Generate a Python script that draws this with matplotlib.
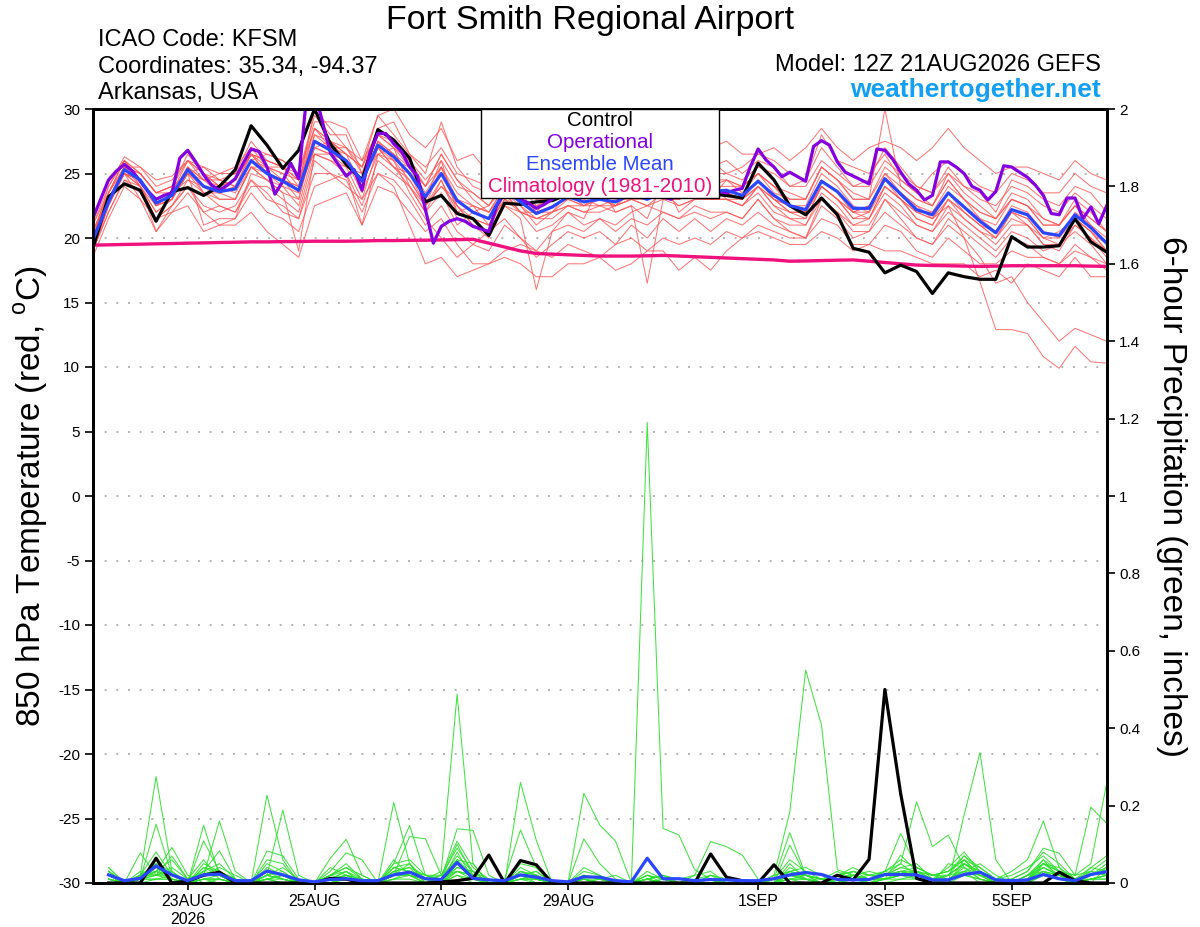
import matplotlib
matplotlib.use('Agg')
import matplotlib.pyplot as plt
from matplotlib.patches import Rectangle

plt.rcParams['font.family'] = ['Liberation Sans', 'DejaVu Sans']
plt.rcParams['mathtext.fontset'] = 'custom'
plt.rcParams['mathtext.rm'] = 'Liberation Sans'

# ---------------- data ----------------
fhr_6h = list(range(0, 385, 6))       # temperature, 6-hourly (65)
fhr_3h = list(range(0, 385, 3))       # operational, 3-hourly (129)
fhr_precip = list(range(6, 385, 6))   # 6-hour precipitation (64)

tick_hours = [36, 84, 132, 180, 252, 300, 348]
tick_labels = ['23AUG\n2026', '25AUG', '27AUG', '29AUG', '1SEP', '3SEP', '5SEP']

control_temp = [19.2, 23.2, 24.2, 23.7, 21.3, 23.6, 23.9, 23.3, 24.0, 25.3,
                28.7, 27.2, 25.4, 26.8, 30.0, 27.3, 25.7, 24.5, 28.4, 27.6,
                26.2, 22.8, 23.3, 21.9, 21.5, 20.2, 22.7, 22.6, 22.8, 22.9,
                23.4, 23.8, 23.5, 24.2, 23.6, 24.5, 23.8, 24.6, 24.0, 23.4,
                23.3, 23.1, 25.8, 24.5, 22.5, 21.8, 23.1, 21.8, 19.2, 18.9,
                17.3, 17.9, 17.4, 15.7, 17.3, 17.0, 16.8, 16.8, 20.1, 19.3,
                19.3, 19.4, 21.5, 19.7, 18.9]

mean_temp = [19.8, 22.8, 25.3, 24.5, 22.7, 23.3, 25.3, 24.0, 23.6, 23.8,
             26.0, 25.0, 24.4, 23.7, 27.5, 26.8, 26.0, 24.4, 27.2, 26.3,
             25.0, 23.2, 25.0, 22.9, 22.0, 21.5, 23.7, 22.8, 21.9, 22.4,
             23.2, 22.8, 23.0, 22.8, 23.4, 23.0, 23.6, 23.2, 23.8, 23.6,
             23.7, 23.3, 24.4, 23.3, 22.5, 22.2, 24.4, 23.6, 22.3, 22.3,
             24.6, 23.4, 22.2, 21.8, 23.5, 22.4, 21.3, 20.4, 22.2, 21.8,
             20.4, 20.2, 21.8, 20.8, 19.6]

clim_temp = [19.45, 19.47, 19.5, 19.52, 19.55, 19.57, 19.6, 19.62, 19.65, 19.67,
             19.7, 19.7, 19.72, 19.73, 19.75, 19.75, 19.75, 19.77, 19.8, 19.8,
             19.82, 19.83, 19.85, 19.87, 19.9, 19.6, 19.3, 19.0, 18.8, 18.75,
             18.7, 18.65, 18.6, 18.6, 18.6, 18.62, 18.65, 18.6, 18.55, 18.5,
             18.45, 18.4, 18.35, 18.3, 18.2, 18.22, 18.25, 18.28, 18.3, 18.2,
             18.1, 18.0, 17.9, 17.87, 17.85, 17.82, 17.8, 17.82, 17.85, 17.85,
             17.85, 17.85, 17.85, 17.82, 17.8]

oper_temp = [21.5, 23.0, 24.5, 25.2, 25.7, 25.2, 24.4, 23.6, 23.0, 23.3,
             23.5, 26.2, 26.8, 25.9, 24.9, 24.1, 23.7, 24.1, 24.6, 25.8,
             26.9, 26.7, 25.5, 23.4, 24.4, 25.8, 24.6, 31.0, 31.5, 29.0,
             26.6, 25.7, 24.8, 25.3, 23.7, 26.6, 28.1, 28.1, 27.3, 26.7,
             25.5, 24.8, 22.2, 19.6, 20.9, 21.3, 21.5, 21.3, 20.9, 20.7,
             20.5, 22.5, 23.5, 23.2, 23.0, 22.7, 22.3, 22.6, 23.0, 23.5,
             24.0, 23.8, 23.6, 24.2, 24.8, 24.5, 24.0, 23.8, 24.3, 24.9,
             24.6, 24.0, 23.2, 23.0, 23.5, 24.2, 24.6, 24.3, 23.9, 23.6,
             23.5, 23.7, 23.85, 25.5, 26.9, 26.05, 25.5, 24.75, 25.1, 24.75,
             24.4, 27.1, 27.55, 27.2, 25.9, 25.1, 24.8, 24.5, 24.2, 26.9,
             26.8, 26.1, 25.1, 24.2, 23.7, 22.95, 23.3, 25.9, 25.9, 25.5,
             25.0, 24.0, 23.7, 22.95, 23.6, 25.6, 25.5, 25.1, 24.7, 24.1,
             23.3, 21.9, 21.8, 23.1, 23.1, 21.5, 22.4, 21.1, 22.5]

t_mem01 = [20.5, 23.5, 26.0, 25.0, 23.5, 24.0, 26.5, 25.0, 24.5, 25.0, 27.5, 26.0, 25.5, 24.0, 30.0,
           28.5, 27.0, 25.5, 29.5, 28.0, 26.5, 25.0, 29.0, 25.5, 24.0, 23.5, 25.5, 25.0, 24.0, 24.5,
           25.5, 24.5, 25.0, 24.0, 25.5, 25.0, 26.0, 25.0, 26.5, 25.5, 26.0, 25.0, 26.0, 25.5, 24.0,
           24.5, 27.0, 25.5, 24.0, 24.5, 27.0, 25.5, 24.0, 23.5, 25.5, 24.0, 23.5, 22.0, 24.5, 24.0,
           23.0, 22.5, 24.0, 23.5, 22.0]
t_mem02 = [19.0, 22.0, 24.5, 23.5, 21.5, 22.5, 24.0, 22.5, 22.0, 22.5, 24.5, 23.5, 22.0, 21.5, 25.0,
           25.0, 24.5, 22.0, 25.0, 24.5, 23.0, 21.0, 22.5, 20.5, 19.5, 19.0, 21.0, 20.0, 18.5, 19.5,
           20.5, 20.0, 20.5, 19.5, 21.0, 20.0, 21.5, 20.5, 21.5, 20.5, 21.5, 21.0, 22.0, 21.0, 20.5,
           20.0, 22.5, 21.5, 20.0, 20.5, 22.0, 21.0, 20.0, 19.5, 21.0, 20.0, 18.5, 16.5, 17.0, 15.0,
           13.5, 12.0, 13.0, 12.5, 12.0]
t_mem03 = [20.0, 23.0, 25.5, 24.5, 23.0, 23.5, 25.5, 24.5, 23.5, 24.0, 26.5, 25.0, 24.5, 23.0, 28.0,
           27.0, 26.5, 24.0, 27.5, 26.5, 25.5, 23.0, 26.0, 22.0, 22.5, 21.0, 23.5, 23.0, 22.0, 22.0,
           23.5, 22.5, 23.5, 22.5, 24.0, 23.0, 24.0, 23.5, 24.5, 23.0, 24.5, 23.5, 25.0, 24.0, 22.5,
           22.5, 25.0, 24.0, 22.5, 22.0, 25.0, 23.5, 22.5, 21.5, 22.5, 20.0, 16.6, 12.9, 12.9, 12.6,
           10.8, 9.9, 11.6, 10.4, 10.3]
t_mem04 = [21.0, 24.0, 26.0, 24.0, 22.0, 23.0, 25.0, 21.0, 21.5, 21.5, 25.0, 24.5, 24.0, 22.5, 27.0,
           27.5, 26.0, 23.5, 26.5, 27.0, 24.0, 22.0, 24.5, 21.5, 21.0, 20.5, 22.5, 21.5, 16.0, 20.5,
           22.0, 21.5, 24.0, 22.0, 22.5, 21.5, 24.5, 22.0, 23.0, 24.5, 23.0, 22.5, 23.5, 22.0, 21.5,
           21.0, 23.5, 22.5, 21.0, 21.5, 23.5, 22.5, 21.0, 20.5, 22.5, 21.5, 20.5, 19.5, 21.0, 21.0,
           19.5, 19.0, 21.0, 20.0, 18.5]
t_mem05 = [19.5, 23.0, 25.0, 24.0, 22.5, 23.0, 25.5, 23.5, 23.0, 23.0, 25.5, 24.5, 23.5, 19.0, 26.5,
           26.0, 25.5, 23.0, 27.0, 26.0, 24.5, 22.5, 24.5, 22.0, 21.5, 21.0, 23.0, 22.0, 21.5, 22.0,
           22.5, 22.0, 22.5, 22.0, 22.5, 16.5, 23.0, 22.5, 23.0, 23.0, 23.0, 22.5, 24.0, 22.5, 21.5,
           21.5, 24.0, 23.0, 21.5, 21.5, 24.0, 23.0, 21.5, 21.0, 23.0, 22.0, 21.0, 20.5, 22.0, 21.5,
           20.0, 20.5, 21.5, 20.5, 19.5]
t_mem06 = [20.0, 23.5, 25.5, 25.0, 23.5, 24.0, 25.0, 25.5, 24.5, 24.0, 26.0, 26.5, 26.0, 25.0, 28.5,
           27.5, 26.5, 25.5, 28.5, 27.5, 26.0, 24.5, 26.0, 24.0, 23.5, 22.5, 24.5, 24.5, 23.0, 23.5,
           24.5, 24.0, 24.5, 24.5, 25.0, 24.5, 25.0, 24.5, 25.0, 25.0, 25.0, 24.5, 25.5, 25.0, 24.0,
           24.0, 26.0, 25.0, 24.0, 24.0, 26.0, 25.0, 24.0, 23.5, 25.0, 24.0, 23.0, 22.5, 24.0, 23.5,
           22.5, 22.0, 23.5, 22.5, 21.5]
t_mem07 = [18.5, 21.5, 24.0, 23.0, 20.5, 22.0, 22.5, 20.5, 21.0, 21.0, 22.0, 20.5, 19.5, 18.5, 22.5,
           23.0, 23.5, 21.0, 24.0, 23.5, 22.0, 20.5, 21.5, 19.5, 18.0, 18.0, 19.0, 19.5, 19.0, 18.5,
           19.5, 19.0, 18.5, 19.5, 20.0, 19.0, 20.0, 19.5, 20.0, 19.5, 20.5, 20.0, 21.0, 20.5, 20.0,
           20.0, 21.5, 21.0, 19.5, 19.5, 21.0, 20.5, 19.0, 18.5, 20.0, 19.0, 18.0, 18.0, 19.0, 18.5,
           18.5, 18.0, 19.0, 18.5, 18.0]
t_mem08 = [20.5, 23.0, 25.5, 25.5, 24.0, 24.5, 26.0, 25.0, 24.0, 23.5, 25.5, 25.5, 25.0, 24.5, 26.5,
           26.5, 25.5, 25.0, 26.5, 25.5, 24.0, 22.0, 23.5, 21.0, 22.0, 22.5, 24.0, 23.5, 22.0, 23.5,
           24.0, 23.5, 23.0, 23.5, 24.0, 23.5, 24.0, 24.0, 24.5, 24.0, 24.5, 24.0, 25.0, 23.5, 23.0,
           23.0, 25.5, 24.5, 23.0, 23.0, 30.0, 24.0, 23.0, 22.5, 24.5, 23.0, 22.0, 21.5, 23.0, 22.5,
           21.5, 21.0, 22.5, 21.5, 20.5]
t_mem09 = [19.0, 22.5, 25.0, 24.5, 22.5, 23.5, 25.0, 24.0, 23.5, 24.5, 27.0, 25.5, 24.5, 24.0, 28.5,
           27.0, 27.0, 26.0, 28.0, 27.5, 25.5, 24.0, 26.5, 24.5, 23.0, 22.0, 24.0, 23.0, 22.5, 23.0,
           23.5, 23.0, 22.5, 23.0, 23.0, 23.5, 23.0, 23.0, 23.5, 23.0, 23.0, 23.0, 24.0, 23.0, 22.5,
           22.0, 24.0, 23.0, 22.0, 22.5, 24.5, 23.5, 22.5, 22.0, 24.0, 23.0, 21.5, 21.0, 23.0, 22.5,
           21.0, 21.0, 22.5, 21.0, 20.0]
t_mem10 = [21.5, 24.5, 26.0, 24.5, 23.0, 23.5, 26.0, 24.5, 25.0, 25.5, 27.0, 26.5, 26.0, 25.0, 29.0,
           29.0, 28.5, 26.0, 29.5, 30.0, 28.0, 27.0, 28.5, 26.0, 26.5, 25.0, 26.0, 27.0, 26.0, 26.0,
           26.5, 27.0, 26.5, 26.0, 26.0, 26.0, 27.0, 26.5, 27.0, 27.0, 27.5, 26.5, 26.5, 27.0, 26.0,
           27.0, 28.5, 27.0, 26.0, 27.0, 27.5, 27.0, 26.0, 27.0, 28.5, 27.0, 26.0, 25.0, 25.5, 25.5,
           25.0, 24.5, 26.0, 25.0, 24.5]
t_mem11 = [19.5, 23.0, 25.0, 23.0, 21.5, 22.5, 24.5, 23.5, 22.5, 22.0, 24.5, 23.0, 22.5, 21.5, 26.0,
           25.0, 24.0, 23.0, 25.0, 24.0, 21.0, 18.0, 18.5, 17.0, 17.5, 18.0, 18.5, 18.0, 17.0, 17.0,
           18.0, 18.0, 18.5, 17.5, 18.0, 19.0, 19.0, 17.5, 18.5, 17.5, 19.0, 20.0, 20.5, 20.0, 19.5,
           19.5, 20.5, 20.0, 19.0, 19.5, 19.0, 19.0, 18.5, 18.0, 18.0, 18.0, 17.0, 17.5, 16.5, 18.0,
           17.5, 17.0, 18.5, 17.0, 17.0]
t_mem12 = [20.0, 23.5, 25.5, 24.0, 22.0, 23.0, 25.0, 24.5, 24.5, 24.0, 26.5, 25.5, 25.5, 24.5, 27.5,
           27.0, 26.0, 24.5, 27.5, 26.0, 25.5, 23.5, 25.5, 23.0, 22.0, 21.5, 23.5, 22.5, 21.5, 21.5,
           22.5, 22.5, 23.0, 22.5, 23.5, 23.0, 23.5, 23.0, 23.5, 23.5, 23.5, 23.0, 24.0, 23.0, 22.0,
           21.5, 24.0, 23.0, 22.0, 21.5, 24.0, 23.0, 21.5, 21.0, 23.0, 21.5, 20.5, 20.0, 21.5, 21.0,
           19.5, 19.5, 21.0, 20.0, 19.0]
t_mem13 = [20.0, 24.0, 26.3, 25.5, 24.5, 24.8, 26.0, 25.5, 25.0, 25.0, 26.5, 26.0, 25.5, 25.0, 29.5,
           28.0, 28.0, 25.0, 28.5, 29.0, 26.5, 25.5, 27.0, 25.0, 24.5, 24.0, 25.0, 24.5, 25.0, 25.5,
           24.5, 25.5, 25.5, 25.0, 24.5, 26.0, 25.5, 26.0, 25.5, 26.0, 25.0, 25.5, 26.5, 26.0, 25.0,
           24.5, 28.0, 26.0, 25.5, 25.0, 26.5, 24.5, 23.5, 25.0, 26.0, 25.0, 24.0, 23.5, 25.0, 24.5,
           23.5, 23.5, 25.0, 24.0, 23.5]
t_mem14 = [19.0, 22.0, 24.5, 24.0, 21.5, 22.0, 23.5, 22.0, 21.0, 21.5, 23.5, 22.0, 21.5, 20.5, 24.0,
           24.5, 25.0, 22.5, 26.0, 25.0, 24.0, 22.5, 24.0, 22.5, 21.0, 20.0, 22.5, 22.0, 20.5, 21.0,
           22.0, 21.0, 21.5, 21.0, 22.0, 22.5, 22.0, 21.5, 22.5, 22.0, 22.0, 21.5, 23.0, 21.5, 20.5,
           20.0, 23.0, 22.0, 20.5, 20.5, 23.0, 22.0, 21.0, 20.5, 22.0, 21.0, 20.0, 19.0, 20.5, 20.0,
           19.0, 19.5, 20.5, 19.5, 18.0]
t_mem15 = [20.0, 23.0, 25.0, 24.5, 23.0, 23.5, 25.5, 24.0, 23.5, 24.0, 26.0, 25.5, 25.0, 23.5, 27.0,
           26.5, 26.0, 24.5, 27.0, 25.5, 25.0, 22.5, 25.5, 22.5, 21.0, 20.5, 23.5, 22.0, 21.5, 22.0,
           23.0, 22.5, 22.5, 22.5, 23.0, 22.5, 23.0, 23.0, 23.5, 23.0, 23.5, 23.0, 24.5, 23.0, 22.0,
           22.0, 24.5, 23.5, 22.0, 22.0, 24.5, 23.0, 22.0, 21.5, 23.5, 22.0, 21.0, 20.0, 22.0, 21.5,
           20.0, 19.5, 21.5, 20.5, 19.0]
t_mem16 = [20.5, 23.0, 25.5, 25.0, 23.5, 23.5, 24.5, 24.0, 23.0, 23.0, 25.5, 25.0, 24.0, 23.5, 27.0,
           26.5, 26.0, 24.5, 27.0, 25.5, 24.5, 22.5, 24.0, 23.0, 22.5, 22.0, 23.5, 22.0, 22.0, 22.5,
           23.0, 22.5, 23.0, 22.5, 23.0, 23.0, 23.5, 23.0, 24.0, 23.5, 23.5, 23.0, 24.5, 23.0, 22.5,
           22.0, 24.5, 23.5, 22.0, 22.5, 24.5, 23.5, 22.0, 22.0, 23.5, 22.5, 21.5, 20.5, 22.5, 22.0,
           20.5, 20.0, 22.0, 21.0, 19.5]
t_mem17 = [19.5, 23.0, 25.0, 24.0, 20.5, 22.5, 24.0, 22.0, 22.5, 22.0, 24.0, 24.0, 23.0, 22.0, 26.5,
           26.0, 25.0, 21.0, 26.5, 26.0, 23.5, 21.5, 20.0, 18.5, 19.5, 20.5, 21.5, 20.0, 19.0, 20.5,
           21.0, 20.5, 21.5, 20.5, 21.5, 21.0, 22.0, 21.5, 22.0, 21.5, 22.0, 21.5, 23.0, 21.5, 21.0,
           21.0, 23.0, 22.0, 21.0, 21.0, 23.0, 21.5, 20.0, 19.5, 21.5, 20.5, 19.5, 18.5, 20.0, 19.5,
           18.5, 18.0, 19.5, 18.5, 17.5]
t_mem18 = [20.0, 23.0, 25.0, 24.5, 22.5, 23.0, 25.5, 24.5, 24.0, 24.5, 26.5, 25.0, 24.5, 24.0, 28.0,
           27.5, 26.5, 25.5, 28.0, 27.0, 26.0, 24.0, 26.5, 24.5, 23.5, 22.5, 24.5, 24.0, 22.5, 23.0,
           24.0, 23.5, 24.0, 23.5, 24.5, 24.0, 24.5, 24.0, 25.0, 24.5, 24.5, 24.0, 25.0, 24.0, 23.5,
           23.0, 25.5, 24.5, 23.5, 23.0, 25.5, 24.5, 23.5, 22.5, 25.0, 23.5, 22.5, 21.5, 23.5, 23.0,
           21.5, 21.0, 23.0, 22.0, 20.5]
t_mem19 = [19.0, 22.5, 25.0, 24.5, 22.5, 23.0, 25.0, 23.5, 23.5, 23.0, 25.5, 24.5, 23.5, 23.0, 27.5,
           27.0, 26.0, 24.0, 27.5, 26.5, 25.0, 23.0, 25.0, 22.5, 21.5, 21.0, 23.0, 22.5, 21.0, 22.0,
           22.5, 22.0, 22.0, 22.5, 23.0, 22.5, 23.5, 22.5, 23.0, 23.0, 23.0, 22.5, 24.0, 22.5, 22.0,
           22.0, 24.0, 23.0, 21.5, 22.0, 24.0, 23.0, 22.0, 21.5, 23.0, 22.0, 21.0, 20.0, 22.0, 21.0,
           20.0, 20.0, 21.5, 20.5, 19.0]
t_mem20 = [21.0, 23.5, 26.0, 25.0, 23.5, 24.0, 26.0, 25.0, 24.0, 24.5, 26.5, 26.0, 25.5, 24.5, 28.5,
           27.5, 27.0, 25.0, 28.0, 27.0, 25.5, 24.0, 25.5, 23.5, 22.5, 22.0, 24.0, 23.5, 23.0, 23.0,
           24.0, 23.5, 23.5, 23.5, 24.0, 24.0, 24.0, 24.0, 24.5, 24.0, 24.0, 24.0, 25.0, 24.0, 23.0,
           23.0, 25.5, 24.5, 23.0, 23.0, 25.0, 24.0, 23.0, 22.5, 24.5, 23.0, 22.0, 21.5, 23.0, 22.5,
           21.0, 21.0, 22.5, 21.5, 20.5]

control_precip = [0, 0, 0, 0.064, 0, 0.005, 0.02, 0.028,
                  0, 0, 0, 0, 0, 0, 0.012, 0.01,
                  0, 0, 0, 0, 0, 0.003, 0.006, 0.012,
                  0.072, 0, 0.058, 0.047, 0, 0, 0, 0,
                  0, 0, 0, 0, 0, 0, 0.075, 0.015,
                  0.006, 0, 0.047, 0, 0, 0, 0.02, 0.008,
                  0.061, 0.50, 0.23, 0.012, 0, 0, 0, 0,
                  0, 0, 0, 0, 0.028, 0.006, 0, 0]

mean_precip = [0.021, 0.006, 0.012, 0.044, 0.021, 0.006, 0.021, 0.023,
               0.006, 0.006, 0.031, 0.021, 0.008, 0.003, 0.009, 0.011,
               0.006, 0.006, 0.021, 0.028, 0.011, 0.009, 0.053, 0.012,
               0.008, 0.006, 0.021, 0.015, 0.006, 0.003, 0.016, 0.015,
               0.006, 0.003, 0.064, 0.011, 0.011, 0.006, 0.009, 0.008,
               0.006, 0.006, 0.011, 0.021, 0.027, 0.022, 0.009, 0.008,
               0.009, 0.022, 0.022, 0.021, 0.008, 0.008, 0.022, 0.028,
               0.008, 0.006, 0.008, 0.022, 0.011, 0.006, 0.022, 0.029]

p_mem01 = [0.02, 0, 0.02, 0.275, 0.03, 0, 0.01, 0, 0, 0, 0.01, 0, 0, 0, 0, 0.02,
           0, 0, 0.02, 0.03, 0.01, 0.03, 0.488, 0.05, 0, 0, 0.02, 0.01, 0, 0, 0.01, 0,
           0, 0, 0.01, 0, 0, 0, 0.01, 0, 0, 0, 0, 0.02, 0.03, 0.01, 0, 0.01,
           0, 0.01, 0.02, 0.03, 0.01, 0, 0.176, 0.337, 0.06, 0, 0, 0.02, 0.01, 0, 0.01, 0.02]
p_mem02 = [0.03, 0, 0.01, 0.152, 0.02, 0, 0.149, 0.02, 0, 0, 0.02, 0.01, 0, 0, 0.01, 0.03,
           0.01, 0, 0.208, 0.05, 0, 0.01, 0.06, 0.02, 0, 0, 0.03, 0.02, 0, 0, 0.02, 0.01,
           0, 0, 1.19, 0.141, 0.124, 0.034, 0.01, 0, 0, 0, 0, 0.01, 0.02, 0, 0, 0.02,
           0.01, 0.03, 0.02, 0.01, 0, 0, 0.05, 0.02, 0, 0, 0.01, 0.04, 0.02, 0, 0.02, 0.03]
p_mem03 = [0.04, 0, 0.078, 0.02, 0.07, 0.01, 0.02, 0.16, 0.03, 0, 0.03, 0.02, 0, 0, 0.02, 0.01,
           0, 0, 0.03, 0.02, 0.01, 0.02, 0.09, 0.03, 0, 0, 0.26, 0.11, 0, 0, 0, 0.01,
           0.02, 0, 0.02, 0.01, 0, 0, 0.02, 0.01, 0, 0, 0.02, 0.184, 0.55, 0.408, 0.034, 0.02,
           0.01, 0.02, 0.04, 0.03, 0.01, 0, 0.06, 0.02, 0, 0, 0.02, 0.05, 0.03, 0.01, 0, 0.04]
p_mem04 = [0.02, 0, 0.01, 0.03, 0.092, 0.02, 0, 0.01, 0, 0, 0.02, 0.188, 0.02, 0, 0, 0.02,
           0.01, 0, 0.02, 0.12, 0.114, 0.02, 0.03, 0.02, 0, 0, 0.01, 0.02, 0, 0, 0.232, 0.15,
           0.108, 0, 0.01, 0.02, 0, 0, 0.01, 0.01, 0, 0, 0, 0.03, 0.02, 0.01, 0, 0.01,
           0.02, 0.02, 0.03, 0.02, 0.01, 0.02, 0.07, 0.03, 0.01, 0, 0.02, 0.06, 0.03, 0.01, 0.03, 0.02]
p_mem05 = [0.01, 0, 0.02, 0.04, 0.01, 0, 0.109, 0.03, 0.01, 0, 0.227, 0.06, 0, 0, 0.01, 0.02,
           0, 0, 0.04, 0.03, 0.01, 0.01, 0.14, 0.136, 0.02, 0, 0.02, 0.03, 0, 0, 0.01, 0,
           0, 0, 0.02, 0.01, 0, 0, 0, 0.01, 0, 0, 0.01, 0.02, 0.03, 0.02, 0.01, 0.02,
           0.01, 0.03, 0.05, 0.21, 0.094, 0.124, 0.04, 0.01, 0, 0, 0.02, 0.03, 0.02, 0, 0.02, 0.03]
p_mem06 = [0.03, 0, 0.01, 0.02, 0.02, 0, 0.03, 0.083, 0.01, 0, 0.083, 0.07, 0.01, 0, 0.02, 0.04,
           0.01, 0, 0.05, 0.149, 0.02, 0.01, 0.07, 0.03, 0, 0.01, 0.137, 0.04, 0, 0, 0.02, 0.01,
           0, 0, 0.03, 0.01, 0, 0.02, 0.03, 0, 0, 0, 0.02, 0.03, 0.01, 0, 0.02, 0.03,
           0.01, 0.02, 0.03, 0.04, 0.02, 0.03, 0.06, 0.02, 0.01, 0.03, 0.06, 0.16, 0.04, 0.01, 0.02, 0.05]
p_mem07 = [0.02, 0, 0.01, 0.03, 0.01, 0, 0.02, 0.04, 0.02, 0, 0.01, 0.02, 0, 0, 0.064, 0.113,
           0.02, 0, 0.03, 0.04, 0, 0.02, 0.108, 0.04, 0.01, 0, 0.02, 0.03, 0, 0, 0.114, 0.05,
           0.01, 0, 0.01, 0.02, 0, 0, 0.02, 0.01, 0, 0, 0.01, 0.13, 0.02, 0.01, 0.03, 0.01,
           0.01, 0.02, 0.03, 0.02, 0.01, 0.02, 0.05, 0.03, 0, 0, 0.01, 0.05, 0.03, 0.02, 0.196, 0.154]
p_mem08 = [0.01, 0, 0.02, 0.05, 0.03, 0, 0.03, 0.02, 0, 0, 0.02, 0.01, 0, 0, 0.03, 0.078,
           0.06, 0, 0.02, 0.03, 0.02, 0.01, 0.05, 0.02, 0, 0, 0.04, 0.02, 0, 0, 0.02, 0.01,
           0, 0, 0.01, 0.02, 0.01, 0.02, 0.107, 0.094, 0.072, 0.01, 0, 0.098, 0.02, 0.01, 0.02, 0.03,
           0.02, 0.03, 0.128, 0.04, 0.02, 0.03, 0.07, 0.04, 0.01, 0.02, 0.04, 0.07, 0.03, 0.02, 0.05, 0.258]
p_mem09 = [0.02, 0, 0.01, 0.04, 0.02, 0, 0.04, 0.03, 0.01, 0, 0.04, 0.02, 0, 0, 0.01, 0.03,
           0, 0, 0.02, 0.05, 0.01, 0.01, 0.03, 0.02, 0, 0, 0.03, 0.01, 0, 0, 0.01, 0,
           0, 0, 0.01, 0, 0, 0, 0.01, 0, 0, 0, 0.01, 0.02, 0.01, 0, 0.02, 0.04,
           0.02, 0.01, 0.072, 0.03, 0.01, 0.04, 0.08, 0.03, 0, 0.01, 0.03, 0.09, 0.077, 0.02, 0.03, 0.06]
p_mem10 = [0.01, 0, 0.01, 0.06, 0.01, 0, 0.05, 0.03, 0, 0, 0.03, 0.01, 0, 0, 0.02, 0.05,
           0.01, 0, 0.04, 0.05, 0, 0, 0.08, 0.01, 0, 0, 0.01, 0, 0, 0, 0, 0,
           0, 0, 0, 0, 0, 0, 0, 0, 0, 0, 0, 0.05, 0.01, 0, 0.01, 0.02,
           0, 0.02, 0.05, 0.02, 0, 0.05, 0.04, 0.01, 0, 0, 0.02, 0.04, 0.02, 0, 0.04, 0.07]
p_mem11 = [0.03, 0, 0.02, 0.08, 0.02, 0, 0.02, 0.02, 0, 0, 0.05, 0.03, 0, 0, 0, 0.02,
           0, 0, 0.06, 0.02, 0, 0.01, 0.1, 0.02, 0, 0, 0.05, 0.04, 0, 0, 0.04, 0.02,
           0, 0, 0.02, 0, 0, 0.01, 0.02, 0, 0, 0, 0, 0.04, 0.02, 0, 0, 0.01,
           0.01, 0.01, 0.02, 0.03, 0.02, 0.01, 0.03, 0.05, 0.02, 0, 0.01, 0.06, 0.01, 0.01, 0.02, 0.04]
p_mem12 = [0.02, 0, 0.03, 0.02, 0.04, 0.01, 0.06, 0.01, 0, 0, 0.02, 0.04, 0.01, 0, 0.04, 0.02,
           0, 0, 0.05, 0.06, 0.02, 0, 0.04, 0.03, 0.01, 0, 0.02, 0.01, 0, 0, 0.01, 0,
           0, 0, 0, 0.01, 0, 0, 0, 0, 0, 0, 0, 0.03, 0.04, 0.02, 0.01, 0.02,
           0.03, 0.02, 0.04, 0.05, 0.01, 0.02, 0.05, 0.02, 0, 0, 0, 0.05, 0.04, 0, 0.03, 0.02]
p_mem13 = [0.01, 0, 0, 0.05, 0.01, 0, 0.01, 0.02, 0, 0, 0.01, 0.02, 0, 0, 0, 0.01,
           0, 0, 0.01, 0.03, 0.01, 0, 0.05, 0.01, 0, 0, 0.02, 0, 0, 0, 0, 0,
           0, 0, 0, 0, 0, 0, 0, 0, 0, 0, 0, 0.01, 0.01, 0, 0, 0.01,
           0, 0.01, 0.03, 0.01, 0, 0.02, 0.03, 0, 0, 0, 0, 0.03, 0.01, 0, 0.01, 0.01]
p_mem14 = [0.04, 0, 0.02, 0.03, 0.06, 0.01, 0.03, 0.05, 0.01, 0, 0.06, 0.05, 0, 0, 0.02, 0.04,
           0.02, 0, 0.03, 0.04, 0.02, 0.02, 0.06, 0.05, 0, 0, 0.03, 0.02, 0, 0, 0.03, 0.02,
           0, 0, 0.01, 0, 0, 0, 0.01, 0, 0, 0, 0.01, 0.06, 0.03, 0.02, 0, 0.02,
           0.01, 0.03, 0.06, 0.04, 0.02, 0.03, 0.06, 0.04, 0.01, 0.01, 0.03, 0.08, 0.05, 0.01, 0.04, 0.03]
p_mem15 = [0.02, 0, 0.01, 0.01, 0.01, 0, 0.01, 0.01, 0, 0, 0.01, 0.01, 0, 0, 0.01, 0.01,
           0, 0, 0.02, 0.02, 0, 0, 0.03, 0.01, 0, 0, 0.01, 0.01, 0, 0, 0, 0,
           0, 0, 0, 0, 0, 0, 0, 0, 0, 0, 0, 0.02, 0.01, 0.01, 0.01, 0.01,
           0.01, 0.02, 0.02, 0.02, 0.01, 0.01, 0.04, 0.02, 0, 0, 0.01, 0.03, 0.02, 0.01, 0.01, 0.02]
p_mem16 = [0.03, 0, 0.02, 0.02, 0.03, 0, 0.04, 0.02, 0, 0, 0.02, 0.03, 0, 0, 0.01, 0.02,
           0.01, 0, 0.03, 0.02, 0.01, 0.01, 0.04, 0.03, 0, 0, 0.02, 0.02, 0, 0, 0.01, 0.01,
           0, 0, 0.01, 0, 0, 0, 0, 0, 0, 0, 0, 0.02, 0.02, 0.01, 0, 0.03,
           0.02, 0.02, 0.03, 0.03, 0.02, 0.02, 0.05, 0.03, 0, 0, 0.02, 0.05, 0.02, 0, 0.02, 0.03]
p_mem17 = [0.01, 0, 0.01, 0.03, 0.02, 0, 0.02, 0.03, 0, 0, 0.03, 0.02, 0, 0, 0.02, 0.03,
           0, 0, 0.04, 0.03, 0.01, 0, 0.05, 0.02, 0, 0, 0.01, 0.02, 0, 0, 0.02, 0.01,
           0, 0, 0, 0.01, 0, 0, 0, 0.01, 0, 0, 0.01, 0.03, 0.02, 0.01, 0.01, 0.02,
           0.01, 0.01, 0.02, 0.03, 0.01, 0.01, 0.03, 0.02, 0.01, 0, 0.01, 0.04, 0.02, 0.01, 0.02, 0.04]
p_mem18 = [0.02, 0, 0, 0.01, 0.01, 0, 0.01, 0.01, 0, 0, 0.01, 0, 0, 0, 0, 0.01,
           0, 0, 0.01, 0.01, 0, 0, 0.02, 0, 0, 0, 0, 0, 0, 0, 0, 0,
           0, 0, 0, 0, 0, 0, 0, 0, 0, 0, 0, 0.01, 0, 0, 0, 0,
           0, 0, 0.01, 0.01, 0, 0, 0.02, 0.01, 0, 0, 0, 0.02, 0.01, 0, 0.01, 0.01]
p_mem19 = [0.01, 0, 0.01, 0.02, 0.01, 0, 0.02, 0.02, 0, 0, 0.02, 0.01, 0, 0, 0.01, 0.02,
           0, 0, 0.02, 0.02, 0, 0, 0.03, 0.02, 0, 0, 0.02, 0.01, 0, 0, 0.01, 0,
           0, 0, 0.01, 0, 0, 0, 0, 0, 0, 0, 0, 0.02, 0.01, 0, 0.01, 0.01,
           0, 0.01, 0.02, 0.02, 0.01, 0.01, 0.03, 0.02, 0, 0, 0.01, 0.03, 0.01, 0, 0.01, 0.02]
p_mem20 = [0.02, 0, 0.01, 0.01, 0.02, 0, 0.01, 0.01, 0, 0, 0.01, 0.02, 0, 0, 0.01, 0.01,
           0, 0, 0.01, 0.02, 0.01, 0, 0.02, 0.01, 0, 0, 0.01, 0.01, 0, 0, 0, 0,
           0, 0, 0, 0, 0, 0, 0, 0.01, 0, 0, 0, 0.01, 0.01, 0, 0, 0.01,
           0.01, 0.01, 0.01, 0.02, 0, 0.01, 0.02, 0.01, 0, 0, 0.01, 0.02, 0.01, 0, 0.01, 0.02]

temp_members = [t_mem01, t_mem02, t_mem03, t_mem04, t_mem05, t_mem06, t_mem07, t_mem08, t_mem09, t_mem10,
                t_mem11, t_mem12, t_mem13, t_mem14, t_mem15, t_mem16, t_mem17, t_mem18, t_mem19, t_mem20]
precip_members = [p_mem01, p_mem02, p_mem03, p_mem04, p_mem05, p_mem06, p_mem07, p_mem08, p_mem09, p_mem10,
                  p_mem11, p_mem12, p_mem13, p_mem14, p_mem15, p_mem16, p_mem17, p_mem18, p_mem19, p_mem20]

temp_ticks = list(range(-30, 31, 5))
precip_ticks = [0, 0.2, 0.4, 0.6, 0.8, 1.0, 1.2, 1.4, 1.6, 1.8, 2.0]
precip_tick_labels = ['0', '0.2', '0.4', '0.6', '0.8', '1', '1.2', '1.4', '1.6', '1.8', '2']

# ---------------- styles ----------------
RED = '#ff5555'
GREEN = '#2ee02e'
BLACK = '#000000'
PURPLE = '#8400e0'
BLUE = '#2a46ff'
MAGENTA = '#f0107e'
SITE = '#14a0f2'

W, H = 1200, 927
fig = plt.figure(figsize=(W / 100, H / 100), dpi=100)
ax = fig.add_axes([92.7 / W, 44 / H, 1014 / W, 774 / H])
ax2 = ax.twinx()

ax.set_xlim(0, 384)
ax.set_ylim(-30, 30)
ax2.set_ylim(0, 2)

ax.set_yticks(temp_ticks)
ax.set_yticklabels([str(t) for t in temp_ticks])
ax2.set_yticks(precip_ticks)
ax2.set_yticklabels(precip_tick_labels)
ax.set_xticks(tick_hours)
ax.set_xticklabels(tick_labels)

ax.grid(axis='y', color='#b4b4b4', linestyle=(0, (1, 5)), linewidth=1.4)
ax.set_axisbelow(True)

for s in ['left', 'right', 'top', 'bottom']:
    ax.spines[s].set_linewidth(2.0)
    ax2.spines[s].set_linewidth(2.0)

ax.tick_params(axis='y', direction='out', length=6, width=1.2, labelsize=11, pad=3)
ax.tick_params(axis='x', direction='out', length=5, width=1.2, labelsize=11.5, pad=3)
ax2.tick_params(axis='y', direction='out', length=6, width=1.2, labelsize=11, pad=3)

# temperature lines
for m in temp_members:
    ax.plot(fhr_6h, m, color=RED, lw=0.75, alpha=0.8, zorder=2)
ax.plot(fhr_6h, clim_temp, color=MAGENTA, lw=2.4, zorder=3)
ax.plot(fhr_6h, control_temp, color=BLACK, lw=2.3, zorder=4)
ax.plot(fhr_3h, oper_temp, color=PURPLE, lw=2.3, zorder=5)
ax.plot(fhr_6h, mean_temp, color=BLUE, lw=2.3, zorder=6)

# precipitation lines
for m in precip_members:
    ax2.plot(fhr_precip, m, color=GREEN, lw=0.75, alpha=0.9, zorder=2)
ax2.plot(fhr_precip, control_precip, color=BLACK, lw=2.3, zorder=4)
ax2.plot(fhr_precip, mean_precip, color=BLUE, lw=2.3, zorder=5)

# legend box
lx0, ly0, lw_, lh_ = 480.5 / W, 1 - 198 / H, 238 / W, 89 / H
ax2.add_patch(Rectangle((lx0, ly0), lw_, lh_, transform=fig.transFigure,
                        facecolor='white', edgecolor='black', lw=1.0,
                        zorder=20, clip_on=False))
leg_items = [('Control', BLACK, 121), ('Operational', PURPLE, 142),
             ('Ensemble Mean', BLUE, 164), ('Climatology (1981-2010)', MAGENTA, 186)]
for txt, col, yc in leg_items:
    ax2.text(600 / W, 1 - yc / H, txt, transform=fig.transFigure, color=col,
             fontsize=14.8, ha='center', va='center', zorder=21)

# header texts
fig.text(590 / W, 1 - 28.5 / H, 'Fort Smith Regional Airport', fontsize=24.5,
         ha='center', va='baseline')
fig.text(98 / W, 1 - 46 / H, 'ICAO Code: KFSM', fontsize=17, ha='left', va='baseline')
fig.text(98 / W, 1 - 73 / H, 'Coordinates: 35.34, -94.37', fontsize=17, ha='left', va='baseline')
fig.text(98 / W, 1 - 99.5 / H, 'Arkansas, USA', fontsize=17, ha='left', va='baseline')
fig.text(1101 / W, 1 - 70.7 / H, 'Model: 12Z 21AUG2026 GEFS', fontsize=17,
         ha='right', va='baseline')
fig.text(1101 / W, 1 - 97.3 / H, 'weathertogether.net', fontsize=19, fontweight='bold',
         color=SITE, ha='right', va='baseline')

# axis titles
fig.text(31 / W, 1 - 496 / H, r'850 hPa Temperature (red, $^{\mathrm{o}}$C)', fontsize=24,
         rotation=90, ha='center', va='center')
fig.text(1171 / W, 1 - 496 / H, '6-hour Precipitation (green, inches)', fontsize=24,
         rotation=-90, ha='center', va='center')

fig.savefig('out.png', dpi=100)
